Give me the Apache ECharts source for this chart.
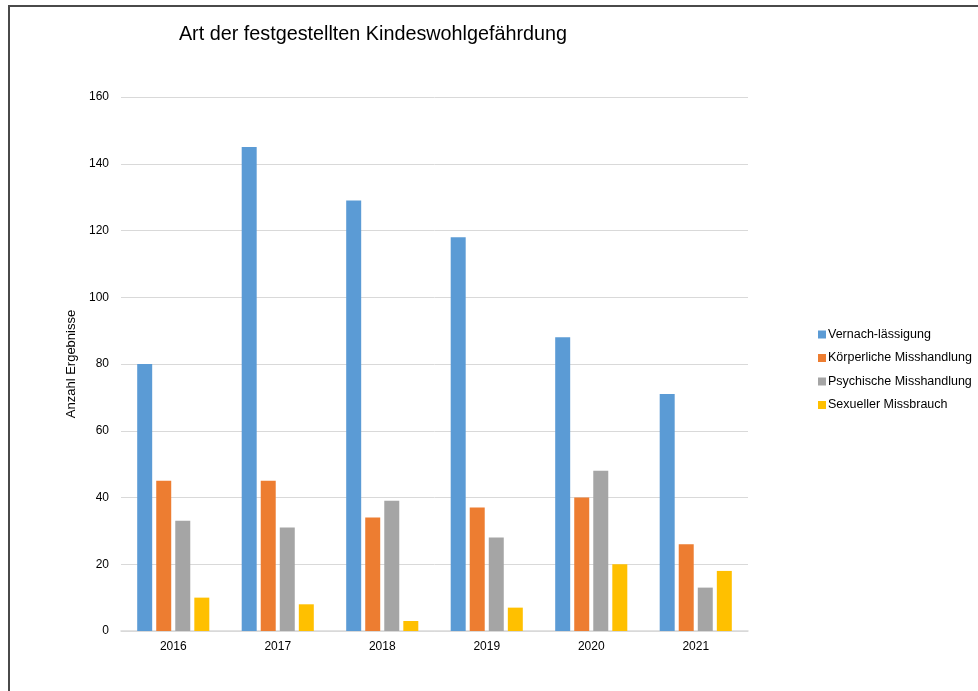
<!DOCTYPE html>
<html>
<head>
<meta charset="utf-8">
<script src="https://cdn.jsdelivr.net/npm/echarts@6/dist/echarts.min.js"></script>
<style>
  html, body { margin: 0; padding: 0; background: #fff; }
  #chart { width: 978px; height: 691px; }
</style>
</head>
<body>
<div id="chart"></div>
<script>
// Jahre
var years = ['2016', '2017', '2018', '2019', '2020', '2021'];
// Werte je Art
var vernachlaessigung = [80, 145, 129, 118, 88, 71];
var koerperlich = [45, 45, 34, 37, 40, 26];
var psychisch = [33, 31, 39, 28, 48, 13];
var sexuell = [10, 8, 3, 7, 20, 18];
var seriesNames = ['Vernach-lässigung', 'Körperliche Misshandlung', 'Psychische Misshandlung', 'Sexueller Missbrauch'];
var colors = ['#5B9BD5', '#ED7D31', '#A5A5A5', '#FFC000'];

var chart = echarts.init(document.getElementById('chart'));
var font = 'Liberation Sans, Arial, sans-serif';

function bar(name, data, i) {
    return {
        name: name,
        type: 'bar',
        data: data,
        barGap: '27%',
        barCategoryGap: '31%',
        itemStyle: { color: colors[i] }
    };
}

var option = {
    animation: false,
    color: colors,
    textStyle: { fontFamily: font },
    title: {
        text: 'Art der festgestellten Kindeswohlgefährdung',
        left: 368,
        top: 20,
        textAlign: 'center',
        textStyle: { fontSize: 19.8, fontWeight: 'normal', color: '#000', fontFamily: font }
    },
    graphic: [{
        type: 'rect',
        shape: { x: 9, y: 6, width: 1200, height: 1000 },
        style: { fill: 'none', stroke: '#4a4a4a', lineWidth: 2 },
        silent: true
    }],
    legend: {
        orient: 'vertical',
        left: 813,
        top: 323,
        itemWidth: 8,
        itemHeight: 8,
        itemGap: 10.5,
        icon: 'rect',
        textStyle: { fontSize: 12.5, color: '#000', fontFamily: font, padding: [0, 0, 0, -3] },
        data: seriesNames
    },
    grid: { left: 121, right: 230, top: 97, bottom: 60 },
    xAxis: {
        type: 'category',
        data: years,
        axisTick: { show: false },
        axisLine: { lineStyle: { color: '#d9d9d9', width: 1.5 } },
        axisLabel: { color: '#000', fontSize: 12, margin: 10, fontFamily: font }
    },
    yAxis: {
        type: 'value',
        min: 0,
        max: 160,
        interval: 20,
        name: 'Anzahl Ergebnisse',
        nameLocation: 'middle',
        nameGap: 37,
        nameTextStyle: { color: '#000', fontSize: 13, fontFamily: font },
        axisLabel: { color: '#000', fontSize: 12, margin: 12, fontFamily: font },
        splitLine: { lineStyle: { color: '#d9d9d9' } },
        axisLine: { show: false },
        axisTick: { show: false }
    },
    series: [
        bar(seriesNames[0], vernachlaessigung, 0),
        bar(seriesNames[1], koerperlich, 1),
        bar(seriesNames[2], psychisch, 2),
        bar(seriesNames[3], sexuell, 3)
    ]
};
chart.setOption(option);
</script>
</body>
</html>
